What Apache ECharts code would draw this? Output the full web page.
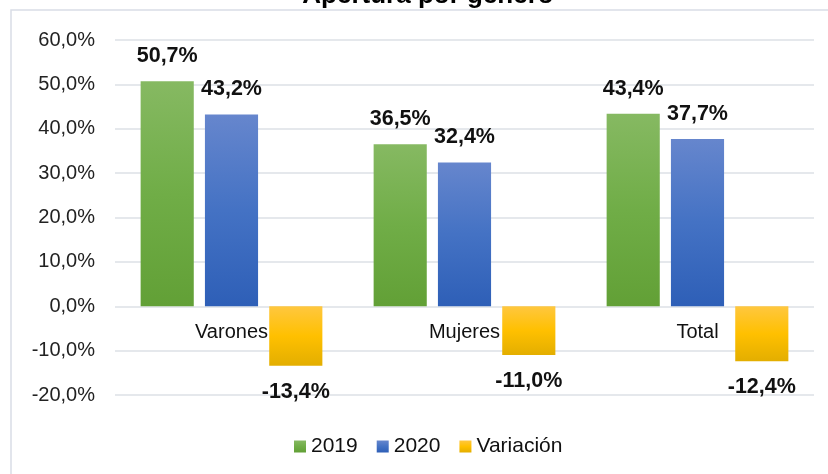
<!DOCTYPE html>
<html>
<head>
<meta charset="utf-8">
<script src="https://cdn.jsdelivr.net/npm/echarts@6/dist/echarts.min.js"></script>
<style>html,body{margin:0;padding:0;background:#fff;}#c{width:828px;height:474px;}</style>
</head>
<body>
<div id="c"></div>
<script>
const categories = ['Varones', 'Mujeres', 'Total'];
const seriesNames = ['2019', '2020', 'Variación'];
const values2019 = [50.7, 36.5, 43.4];
const values2020 = [43.2, 32.4, 37.7];
const valuesVariacion = [-13.4, -11.0, -12.4];
const yTicks = { min: -20, max: 60, interval: 10 };
const titleText = 'Apertura por género';

const FONT = '"Liberation Sans", Arial, sans-serif';
const fmt = v => v.toFixed(1).replace('.', ',') + '%';
function grad(top, mid, bot) {
  return new echarts.graphic.LinearGradient(0, 0, 0, 1, [
    { offset: 0, color: top }, { offset: 0.5, color: mid }, { offset: 1, color: bot }
  ]);
}
const chart = echarts.init(document.getElementById('c'), null, { renderer: 'canvas' });
const labelStyle = {
  show: true, fontFamily: FONT, fontSize: 21.5, fontWeight: 'bold', color: '#111',
  formatter: p => fmt(p.value)
};
chart.setOption({
  animation: false,
  backgroundColor: '#fff',
  textStyle: { fontFamily: FONT },
  graphic: [
    { type: 'rect', shape: { x: 11, y: 10, width: 1000, height: 1000 },
      style: { fill: 'none', stroke: '#d9dde6', lineWidth: 1.5 }, silent: true, z: -1 },
    { type: 'text', x: 428, y: 9, style: { text: titleText, fontFamily: FONT, fontSize: 26,
      fontWeight: 'bold', fill: '#000', align: 'center', verticalAlign: 'bottom' }, silent: true }
  ],
  grid: { left: 115, right: 14, top: 40, bottom: 79 },
  legend: {
    data: seriesNames, top: 431, left: 289, icon: 'rect',
    itemWidth: 12, itemHeight: 12, itemGap: 19,
    textStyle: { fontFamily: FONT, fontSize: 21, color: '#111', padding: [0, 0, 0, 0] }
  },
  xAxis: {
    type: 'category', data: categories,
    offset: -88.6,
    axisLine: { show: false, onZero: false },
    axisTick: { show: false },
    axisLabel: { fontFamily: FONT, fontSize: 20, color: '#111', margin: 16 }
  },
  yAxis: {
    type: 'value', min: yTicks.min, max: yTicks.max, interval: yTicks.interval,
    axisLine: { show: false }, axisTick: { show: false },
    splitLine: { lineStyle: { color: '#dde0e6', width: 1.5 } },
    axisLabel: { fontFamily: FONT, fontSize: 20, color: '#222', margin: 20, formatter: v => fmt(v) }
  },
  series: [
    { name: seriesNames[0], type: 'bar', data: values2019, barGap: '21%', barCategoryGap: '22%',
      itemStyle: { color: grad('#86b962', '#70ad47', '#62a036') },
      label: Object.assign({ position: 'top', distance: 14 }, labelStyle) },
    { name: seriesNames[1], type: 'bar', data: values2020,
      itemStyle: { color: grad('#6686cd', '#4472c4', '#2e5fb7') },
      label: Object.assign({ position: 'top', distance: 14 }, labelStyle) },
    { name: seriesNames[2], type: 'bar', data: valuesVariacion,
      itemStyle: { color: grad('#ffc73f', '#ffc000', '#e3ae00') },
      label: Object.assign({ position: 'bottom', distance: 15 }, labelStyle) }
  ]
});
</script>
</body>
</html>
